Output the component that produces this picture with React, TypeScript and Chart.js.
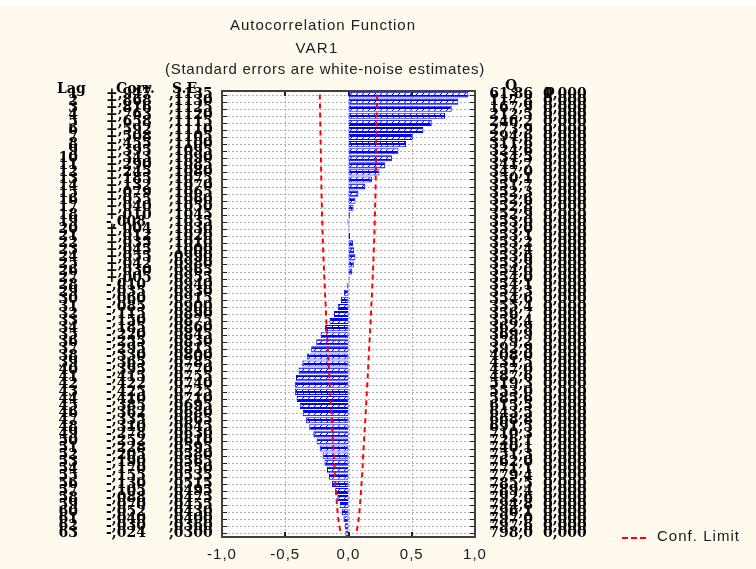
import React, { useEffect, useRef } from "react";
import { Chart, registerables } from "chart.js";

Chart.register(...registerables);

// ---------------- data ----------------
const lagLabels = [
  "1", "2", "3", "4", "5", "6", "7", "8", "9", "10",
  "11", "12", "13", "14", "15", "16", "17", "18", "19", "20",
  "21", "22", "23", "24", "25", "26", "27", "28", "29", "30",
  "31", "32", "33", "34", "35", "36", "37", "38", "39", "40",
  "41", "42", "43", "44", "45", "46", "47", "48", "49", "50",
  "51", "52", "53", "54", "55", "56", "57", "58", "59", "60",
  "61", "62", "63",
];

const acfValues = [
  0.947, 0.868, 0.816, 0.763, 0.658, 0.592, 0.508, 0.455, 0.395, 0.343,
  0.29, 0.245, 0.185, 0.132, 0.079, 0.055, 0.04, 0.01, -0.008, 0.004,
  0.012, 0.035, 0.045, 0.055, 0.042, 0.03, 0.005, -0.01, -0.035, -0.06,
  -0.085, -0.115, -0.15, -0.185, -0.22, -0.255, -0.295, -0.33, -0.365, -0.395,
  -0.415, -0.422, -0.425, -0.41, -0.385, -0.362, -0.335, -0.31, -0.278, -0.252,
  -0.228, -0.205, -0.19, -0.17, -0.155, -0.13, -0.105, -0.088, -0.07, -0.052,
  -0.04, -0.03, -0.024,
];

const stdErrors = [
  0.1135, 0.113, 0.1125, 0.112, 0.1115, 0.111, 0.1105, 0.11, 0.1095, 0.109,
  0.1085, 0.108, 0.1075, 0.107, 0.1065, 0.106, 0.105, 0.1045, 0.1035, 0.103,
  0.102, 0.101, 0.1, 0.099, 0.098, 0.0965, 0.0955, 0.094, 0.093, 0.0915,
  0.09, 0.089, 0.0875, 0.086, 0.0845, 0.083, 0.0815, 0.08, 0.0785, 0.077,
  0.0755, 0.074, 0.0725, 0.071, 0.0695, 0.068, 0.0665, 0.0645, 0.063, 0.061,
  0.0595, 0.058, 0.0565, 0.055, 0.0535, 0.0515, 0.0495, 0.0475, 0.0455, 0.043,
  0.04, 0.036, 0.03,
];

const qStats = [
  61.86, 117.8, 167.9, 212.5, 246.2, 273.9, 294.6, 311.6, 324.6, 334.5,
  341.7, 347.0, 350.1, 351.7, 352.3, 352.6, 352.8, 352.9, 353.0, 353.0,
  353.1, 353.2, 353.4, 353.6, 353.9, 354.0, 354.0, 354.1, 354.3, 354.6,
  355.4, 356.7, 358.4, 362.9, 369.9, 379.2, 392.9, 408.0, 431.5, 457.0,
  487.6, 519.3, 553.0, 585.6, 615.5, 643.5, 668.8, 691.5, 710.3, 726.1,
  740.1, 751.3, 762.0, 771.1, 779.4, 785.5, 789.4, 792.6, 794.8, 796.1,
  797.0, 797.6, 798.0,
];

const pValues = [
  0, 0, 0, 0, 0, 0, 0, 0, 0, 0,
  0, 0, 0, 0, 0, 0, 0, 0, 0, 0,
  0, 0, 0, 0, 0, 0, 0, 0, 0, 0,
  0, 0, 0, 0, 0, 0, 0, 0, 0, 0,
  0, 0, 0, 0, 0, 0, 0, 0, 0, 0,
  0, 0, 0, 0, 0, 0, 0, 0, 0, 0,
  0, 0, 0,
];

const xTickValues = [-1, -0.5, 0, 0.5, 1];
const titleLines = [
  "Autocorrelation Function",
  "VAR1",
  "(Standard errors are white-noise estimates)",
];
const columnHeaders = ["Lag", "Corr.", "S.E.", "Q", "p"];
const legendLabel = "Conf. Limit";
const confMultiplier = 2;

// ---------------- formatting ----------------
const fmtCorr = (v: number) =>
  (v < 0 ? "-" : "+") + Math.abs(v).toFixed(3).replace("0.", ",");
const fmtSE = (v: number) => v.toFixed(4).replace("0.", ",");
const fmtQ = (v: number) => (v < 100 ? v.toFixed(2) : v.toFixed(1)).replace(".", ",");
const fmtP = (v: number) => v.toFixed(3).replace(".", ",");
const fmtTick = (v: number) => {
  const s = Math.abs(v).toFixed(1).replace(".", ",");
  return (v < 0 ? "-" : "") + s;
};

const SANS = '"Liberation Sans", Arial, sans-serif';
const SERIF_BOLD = 'bold 14px "DejaVu Serif", serif';

function drawFit(
  ctx: CanvasRenderingContext2D,
  text: string,
  cx: number,
  cy: number,
  targetW: number,
  font: string,
  color: string
) {
  ctx.save();
  ctx.font = font;
  (ctx as any).letterSpacing = "0px";
  const w = ctx.measureText(text).width;
  const ls = (targetW - w) / Math.max(1, text.length);
  (ctx as any).letterSpacing = ls + "px";
  ctx.fillStyle = color;
  ctx.textAlign = "left";
  ctx.textBaseline = "middle";
  ctx.fillText(text, cx - targetW / 2, cy);
  ctx.restore();
}

const decorPlugin = {
  id: "acfDecor",
  beforeDraw(chart: any) {
    const { ctx, chartArea: a } = chart;
    ctx.save();
    ctx.fillStyle = "#ffffff";
    ctx.fillRect(a.left, a.top, a.right - a.left, a.bottom - a.top);
    ctx.restore();
    (ctx as any).letterSpacing = "1px";
  },
  beforeDatasetsDraw(chart: any) {
    const { ctx, chartArea: a } = chart;
    const xs = chart.scales.x;
    const ys = chart.scales.y;
    const L = Math.round(a.left);
    const R = Math.round(a.right);
    const T = Math.round(a.top);
    const B = Math.round(a.bottom);
    ctx.save();
    ctx.fillStyle = "#b0b0b0";
    for (let i = 0; i < lagLabels.length; i++) {
      const y = Math.round(ys.getPixelForValue(i));
      for (let x = L + 2; x < R - 2; x += 4) ctx.fillRect(x, y, 2, 1);
    }
    for (const v of xTickValues) {
      if (v === -1 || v === 1) continue;
      const x = Math.round(xs.getPixelForValue(v));
      for (let y = T + 2; y < B - 2; y += 4) ctx.fillRect(x, y, 1, 2);
    }
    ctx.restore();
  },
  afterDatasetsDraw(chart: any) {
    const { ctx, chartArea: a } = chart;
    const xs = chart.scales.x;
    const ys = chart.scales.y;
    const L = Math.round(a.left);
    const R = Math.round(a.right);
    const T = Math.round(a.top);
    const B = Math.round(a.bottom);
    ctx.save();
    ctx.fillStyle = "#202020";
    for (let i = 0; i < lagLabels.length; i++) {
      const y = Math.round(ys.getPixelForValue(i));
      ctx.fillRect(L, y, 5, 1);
      ctx.fillRect(R - 5, y, 5, 1);
    }
    for (const v of xTickValues) {
      const x = Math.round(xs.getPixelForValue(v));
      ctx.fillRect(x - 1, T, 2, 5);
      ctx.fillRect(x - 1, B - 5, 2, 5);
    }
    ctx.strokeStyle = "#404040";
    ctx.lineWidth = 2;
    ctx.strokeRect(L, T, R - L, B - T);
    ctx.restore();
  },
  afterDraw(chart: any) {
    const { ctx } = chart;
    (ctx as any).letterSpacing = "0px";
    const ys = chart.scales.y;

    drawFit(ctx, titleLines[0], 323, 26, 186, "15px " + SANS, "#202020");
    drawFit(ctx, titleLines[1], 317, 49, 43, "15px " + SANS, "#202020");
    drawFit(ctx, titleLines[2], 325, 70, 320, "15px " + SANS, "#202020");

    ctx.save();
    ctx.font = SERIF_BOLD;
    ctx.fillStyle = "#000000";
    ctx.textBaseline = "middle";
    ctx.textAlign = "left";
    ctx.fillText(columnHeaders[0], 57, 89);
    ctx.fillText(columnHeaders[1], 116, 89);
    ctx.fillText(columnHeaders[2], 172, 89);
    ctx.fillText(columnHeaders[3], 505, 86);
    ctx.fillText(columnHeaders[4], 545, 91);

    for (let i = 0; i < lagLabels.length; i++) {
      const y = ys.getPixelForValue(i);
      ctx.textAlign = "right";
      ctx.fillText(lagLabels[i], 78, y);
      ctx.textAlign = "left";
      ctx.fillText(fmtCorr(acfValues[i]), 106, y);
      ctx.fillText(fmtSE(stdErrors[i]), 169, y);
      ctx.textAlign = "right";
      ctx.fillText(fmtQ(qStats[i]), 533, y);
      ctx.textAlign = "left";
      ctx.fillText(fmtP(pValues[i]), 543, y);
    }
    ctx.restore();

    ctx.save();
    ctx.fillStyle = "#ff0000";
    for (let x = 622; x < 647; x += 9) ctx.fillRect(x, 537, 6, 2);
    ctx.restore();
    drawFit(ctx, legendLabel, 657 + 83 / 2, 537, 83, "15px " + SANS, "#1a1a1a");
  },
};

export default function App() {
  const canvasRef = useRef<HTMLCanvasElement | null>(null);

  useEffect(() => {
    const canvas = canvasRef.current;
    if (!canvas) return;
    const ctx = canvas.getContext("2d")!;

    const pc = document.createElement("canvas");
    pc.width = 6;
    pc.height = 4;
    const p = pc.getContext("2d")!;
    p.fillStyle = "#0000ff";
    p.fillRect(0, 0, 6, 4);
    p.fillStyle = "#ffffff";
    p.fillRect(0, 1, 3, 1);
    p.fillRect(4, 1, 2, 1);
    p.fillRect(0, 2, 2, 1);
    p.fillRect(3, 2, 3, 1);
    const pattern = ctx.createPattern(pc, "repeat")!;

    const upper = stdErrors.map((s) => confMultiplier * s);
    const lower = stdErrors.map((s) => -confMultiplier * s);

    const lineCommon = {
      type: "line",
      borderColor: "#ff0000",
      borderWidth: 2,
      borderDash: [5, 4],
      pointRadius: 0,
      fill: false,
      tension: 0,
      indexAxis: "y",
      order: 0,
    };

    const chart = new Chart(canvas, {
      type: "bar",
      data: {
        labels: lagLabels,
        datasets: [
          { ...lineCommon, label: legendLabel, data: upper } as any,
          { ...lineCommon, label: legendLabel + " (lower)", data: lower } as any,
          {
            type: "bar",
            label: "Corr.",
            data: acfValues,
            backgroundColor: pattern as any,
            borderColor: "#0000ff",
            borderWidth: 1,
            borderSkipped: false,
            barPercentage: 0.86,
            categoryPercentage: 1,
            indexAxis: "y",
            order: 1,
          } as any,
        ],
      },
      options: {
        indexAxis: "y",
        responsive: false,
        maintainAspectRatio: false,
        animation: false,
        layout: { padding: { left: 222, right: 281, top: 91, bottom: 0 } },
        plugins: {
          legend: { display: false },
          title: { display: false },
          tooltip: { enabled: false },
        },
        scales: {
          x: {
            type: "linear",
            position: "bottom",
            min: -1,
            max: 1,
            afterBuildTicks: (scale: any) => {
              scale.ticks = xTickValues.map((v) => ({ value: v }));
            },
            ticks: {
              callback: (v: any) => fmtTick(Number(v)),
              color: "#1a1a1a",
              font: { family: SANS, size: 15 },
              padding: 9,
              autoSkip: false,
              maxRotation: 0,
            },
            grid: { display: false, drawTicks: false },
            border: { display: false },
            afterFit: (s: any) => {
              s.height = 32;
            },
          },
          y: {
            type: "category",
            position: "left",
            offset: true,
            ticks: { display: false },
            grid: { display: false, drawTicks: false },
            border: { display: false },
            afterFit: (s: any) => {
              s.width = 0;
            },
          },
        },
      } as any,
      plugins: [decorPlugin as any],
    });

    return () => chart.destroy();
  }, []);

  return (
    <div
      style={{
        position: "fixed",
        left: 0,
        top: 0,
        width: 756,
        height: 569,
        background: "linear-gradient(#ffffff 0px, #ffffff 5px, #fff9ee 5px, #fff9ee 100%)",
      }}
    >
      <canvas ref={canvasRef} width={756} height={569} style={{ display: "block" }} />
    </div>
  );
}
